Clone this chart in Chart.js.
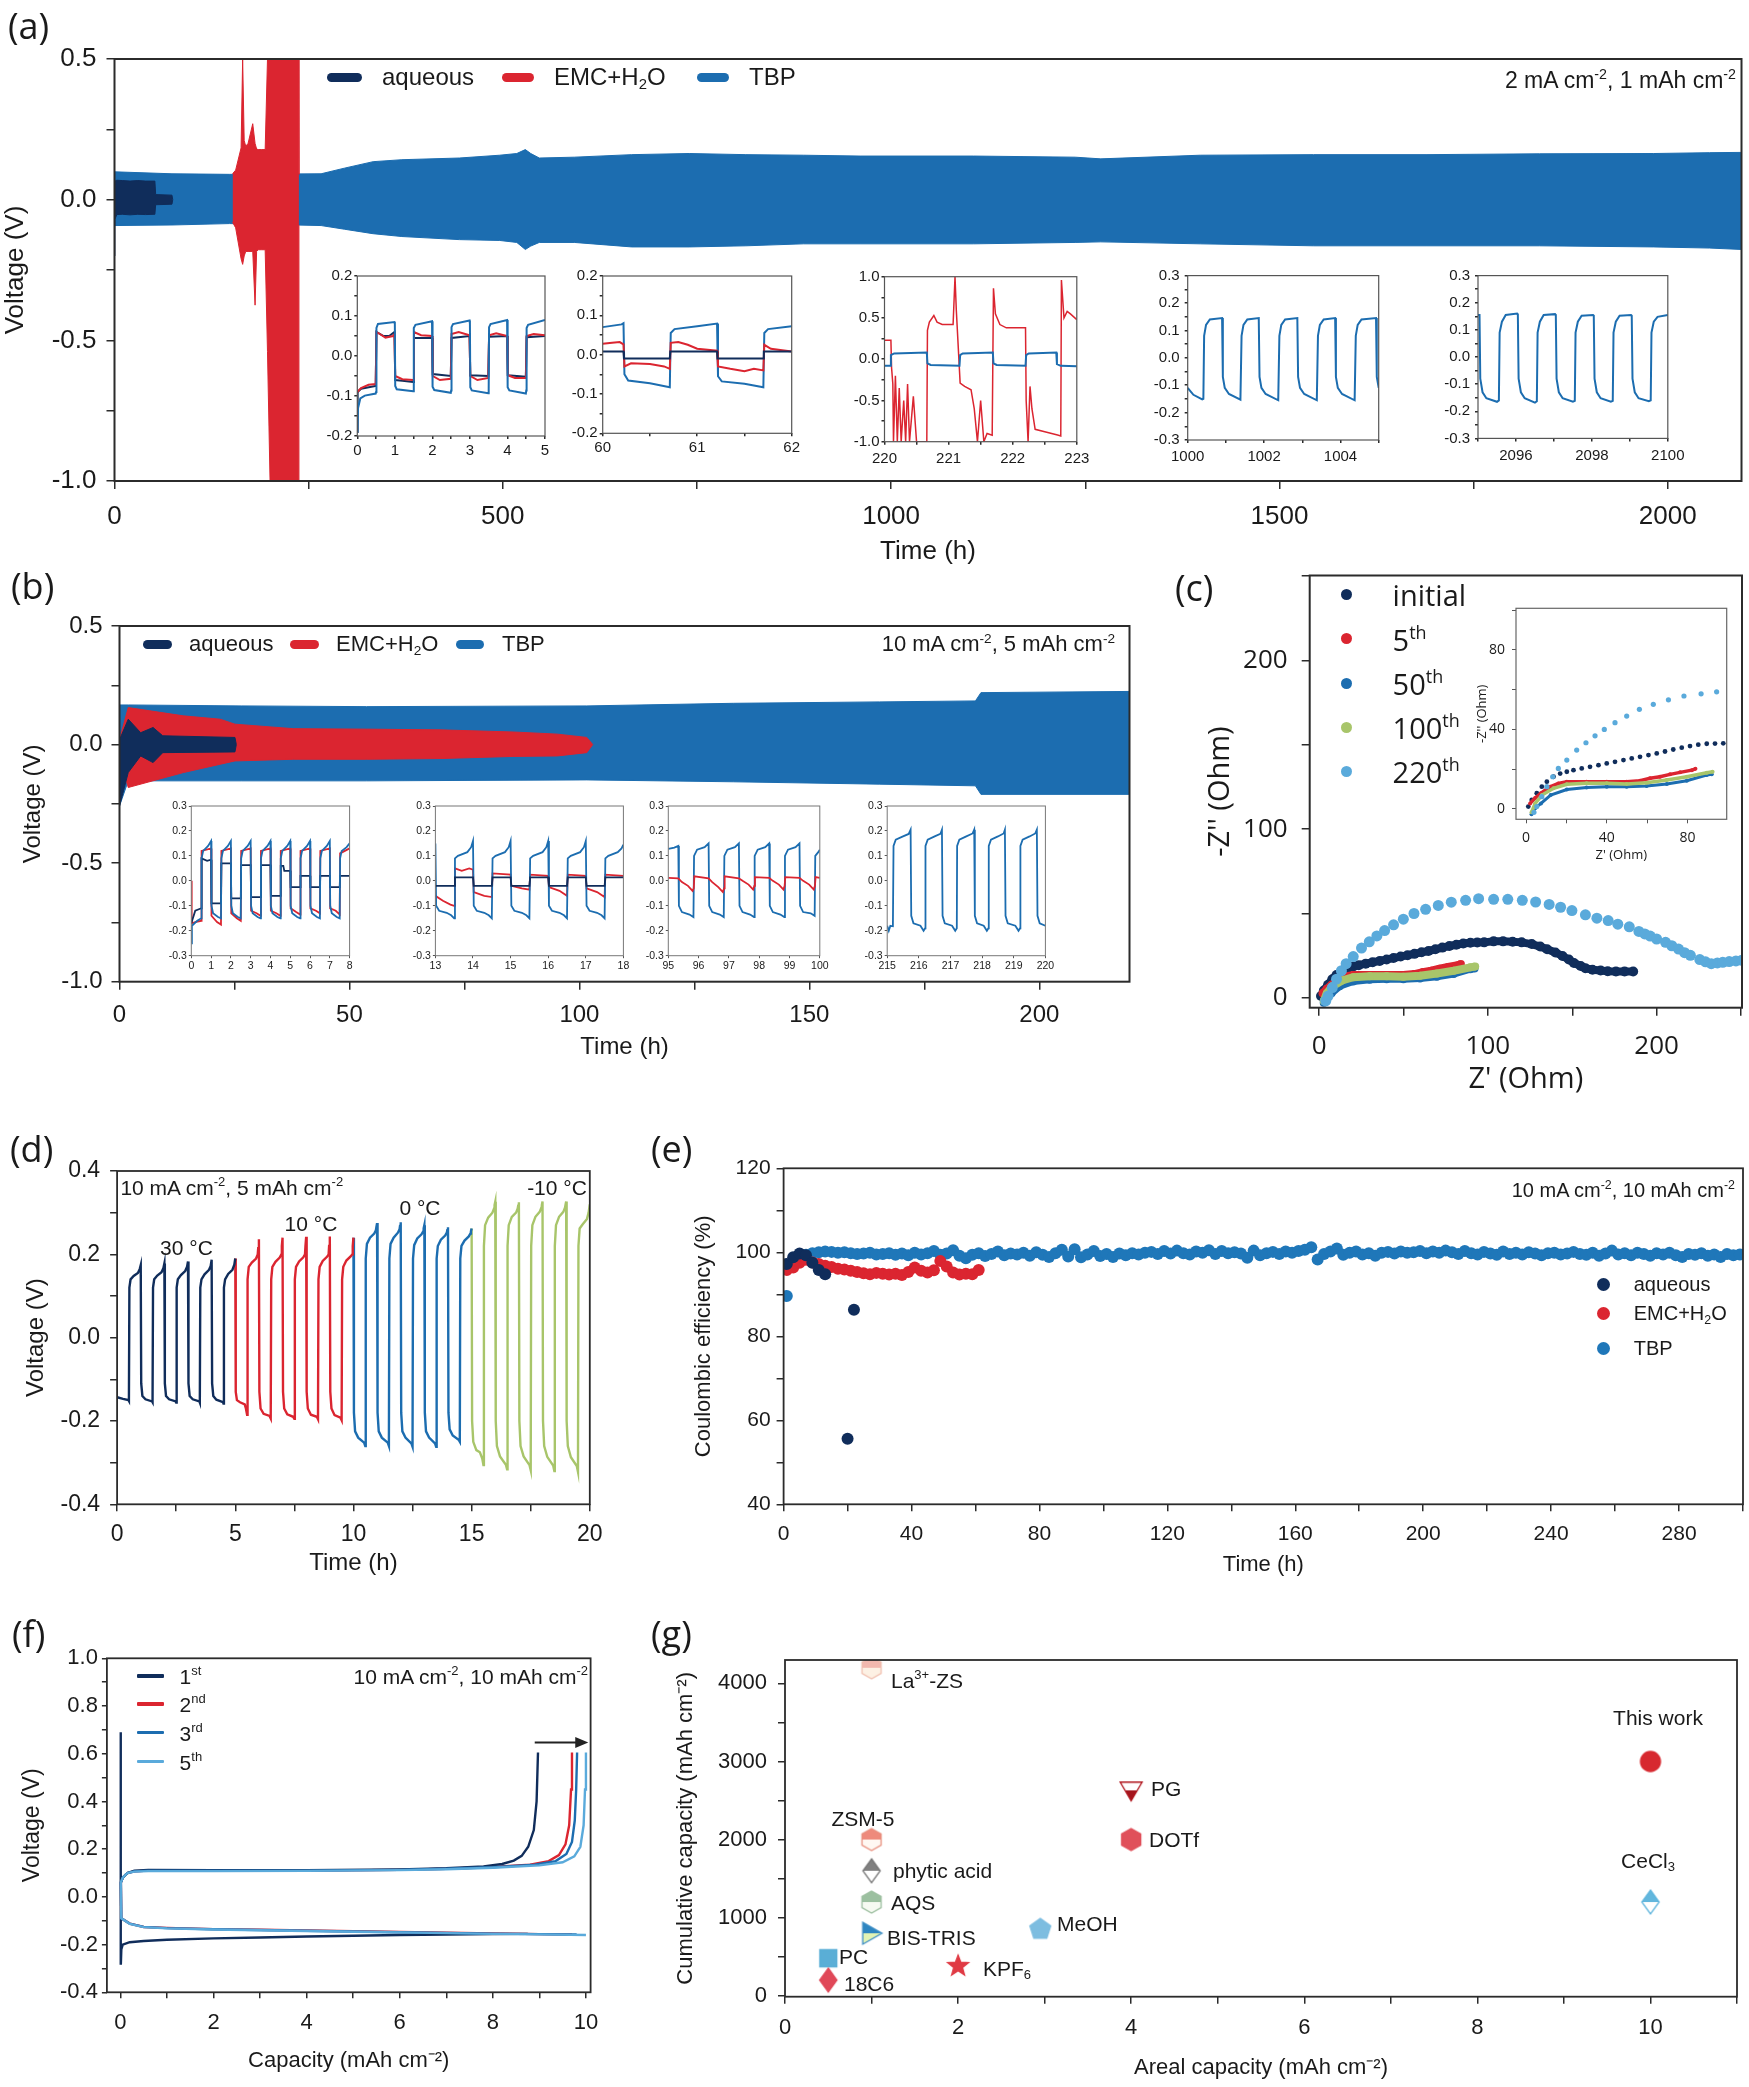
<!DOCTYPE html>
<html>
<head>
<meta charset="utf-8">
<title>Zn symmetric cells – electrolyte comparison</title>
<script src="https://cdn.jsdelivr.net/npm/chart.js@4/dist/chart.umd.min.js"></script>
<style>
  body { margin: 0; background: #fff; }
  #page { position: relative; width: 1749px; height: 2087px; overflow: hidden; background: #fff;
          font-family: "Liberation Sans", Arial, Helvetica, sans-serif; color: #1a1a1a; }
  #page canvas { position: absolute; }
  .t { position: absolute; white-space: nowrap; line-height: 1; }
  .t sup { font-size: 0.62em; vertical-align: 0.62em; line-height: 0; }
  .t sub { font-size: 0.62em; vertical-align: -0.3em; line-height: 0; }
  .mk { position: absolute; }
</style>
</head>
<body>
<div id="page"></div>
<script>
// colours
const NAVY = '#102d5b';
const RED = '#db2530';
const BLUE = '#1c6db0';
const GREEN = '#a8c56a';
const LBLUE = '#5aaadb';
const TEXT = '#1a1a1a';
const SANS = '"Liberation Sans", Arial, Helvetica, sans-serif';
const ROUND = '"Open Sans", "Noto Sans", sans-serif';

// ---------- (a) 2 mA cm-2, 1 mAh cm-2 : envelope of the voltage band ----------
const aAqTime = [0, 0.5, 3, 10, 20, 30, 40, 52, 53, 65, 74, 75];
const aAqUpper = [0.03, 0.066, 0.069, 0.068, 0.066, 0.068, 0.066, 0.066, 0.018, 0.017, 0.016, 0];
const aAqLower = [-0.2, -0.07, -0.053, -0.052, -0.054, -0.052, -0.053, -0.052, -0.018, -0.017, -0.016, 0];
const aEmcTime = [152, 156, 163, 165, 167, 169, 172, 178, 181, 183, 185, 189, 194, 197, 201, 237, 237.5];
const aEmcUpper = [0.092, 0.105, 0.184, 0.5, 0.21, 0.19, 0.2, 0.27, 0.2, 0.18, 0.178, 0.178, 0.178, 0.5, 0.6, 0.6, 0.09];
const aEmcLower = [-0.08, -0.1, -0.21, -0.23, -0.2, -0.184, -0.184, -0.184, -0.375, -0.184, -0.178, -0.178, -0.178, -0.54, -1.1, -1.1, -0.09];
const aTbpTime = [0, 74, 148, 266, 296, 333, 370, 444, 496, 518, 529, 536, 547, 592, 666, 740, 813, 887, 960, 1106, 1237, 1270, 1398, 1544, 1690, 1835, 1982, 2054, 2095];
const aTbpUpper = [0.099, 0.092, 0.09, 0.092, 0.112, 0.135, 0.142, 0.148, 0.158, 0.164, 0.178, 0.164, 0.148, 0.151, 0.16, 0.164, 0.16, 0.158, 0.155, 0.155, 0.151, 0.145, 0.158, 0.16, 0.16, 0.163, 0.164, 0.167, 0.168];
const aTbpLower = [-0.092, -0.09, -0.085, -0.092, -0.105, -0.121, -0.131, -0.142, -0.145, -0.152, -0.177, -0.165, -0.152, -0.152, -0.168, -0.168, -0.164, -0.157, -0.157, -0.157, -0.152, -0.15, -0.157, -0.164, -0.164, -0.164, -0.168, -0.172, -0.177];

// (a) insets, [time h, voltage V]
const aIns1Tbp = [[0,-0.19],[0.02,-0.13],[0.08,-0.106],[0.2,-0.099],[0.49,-0.094],[0.5,-0.09],[0.51,0.07],[0.55,0.08],[0.99,0.085],[1.0,0.08],[1.01,-0.075],[1.05,-0.083],[1.49,-0.088],[1.5,-0.082],[1.51,0.07],[1.55,0.078],[1.99,0.087],[2.0,0.08],[2.01,-0.077],[2.05,-0.085],[2.49,-0.092],[2.5,-0.086],[2.51,0.072],[2.55,0.08],[2.99,0.089],[3.0,0.08],[3.01,-0.078],[3.05,-0.086],[3.49,-0.093],[3.5,-0.086],[3.51,0.072],[3.55,0.08],[3.99,0.09],[4.0,0.08],[4.01,-0.078],[4.05,-0.086],[4.49,-0.094],[4.5,-0.086],[4.51,0.07],[4.55,0.078],[5.0,0.09]];
const aIns1Aq = [[0,-0.19],[0.01,-0.09],[0.1,-0.082],[0.49,-0.075],[0.51,0.06],[0.7,0.05],[0.85,0.05],[0.99,0.06],[1.01,-0.06],[1.2,-0.062],[1.49,-0.065],[1.51,0.045],[1.99,0.045],[2.01,-0.045],[2.49,-0.05],[2.51,0.045],[2.99,0.05],[3.01,-0.048],[3.49,-0.05],[3.51,0.048],[3.99,0.05],[4.01,-0.048],[4.49,-0.052],[4.51,0.047],[5.0,0.05]];
const aIns1Emc = [[0,-0.09],[0.1,-0.08],[0.3,-0.072],[0.49,-0.07],[0.51,0.06],[0.6,0.055],[0.75,0.046],[0.95,0.05],[0.99,0.055],[1.01,-0.05],[1.2,-0.058],[1.49,-0.06],[1.51,0.06],[1.7,0.052],[1.99,0.05],[2.01,-0.05],[2.2,-0.06],[2.49,-0.057],[2.51,0.055],[2.7,0.06],[2.99,0.052],[3.01,-0.05],[3.2,-0.06],[3.49,-0.055],[3.51,0.052],[3.7,0.057],[3.99,0.05],[4.01,-0.048],[4.2,-0.055],[4.49,-0.055],[4.51,0.05],[4.7,0.055],[5.0,0.052]];
const aIns2Tbp = [[60,0.07],[60.2,0.077],[60.22,0.08],[60.23,-0.05],[60.27,-0.066],[60.5,-0.073],[60.71,-0.083],[60.72,0.055],[60.76,0.065],[61.0,0.072],[61.21,0.079],[61.22,-0.055],[61.26,-0.068],[61.5,-0.074],[61.7,-0.083],[61.71,0.055],[61.75,0.065],[62,0.072]];
const aIns2Aq = [[60,0.008],[60.22,0.008],[60.225,-0.01],[60.71,-0.01],[60.715,0.008],[61.21,0.008],[61.215,-0.01],[61.7,-0.01],[61.705,0.008],[62,0.008]];
const aIns2Emc = [[60,0.028],[60.1,0.03],[60.18,0.032],[60.22,0.026],[60.23,-0.03],[60.3,-0.022],[60.5,-0.024],[60.65,-0.03],[60.71,-0.036],[60.72,0.03],[60.8,0.032],[60.9,0.025],[61.0,0.015],[61.21,0.01],[61.22,-0.03],[61.35,-0.036],[61.5,-0.042],[61.6,-0.036],[61.7,-0.04],[61.71,0.025],[61.78,0.015],[62,0.008]];
const aIns3Tbp = [[220,-0.08],[220.09,-0.08],[220.1,0.05],[220.15,0.07],[220.66,0.08],[220.67,-0.05],[220.72,-0.07],[221.17,-0.08],[221.18,0.05],[221.22,0.07],[221.69,0.08],[221.7,-0.05],[221.75,-0.07],[222.2,-0.08],[222.21,0.05],[222.25,0.07],[222.68,0.08],[222.69,-0.06],[222.75,-0.08],[223,-0.085]];
const aIns3Emc = [[220,0.23],[220.1,0.23],[220.11,-0.1],[220.13,-0.3],[220.14,-1.0],[220.17,-0.2],[220.2,-1.0],[220.23,-0.35],[220.26,-1.0],[220.3,-0.5],[220.33,-1.0],[220.36,-0.3],[220.39,-1.0],[220.45,-0.45],[220.5,-1.0],[220.66,-1.0],[220.67,0.35],[220.7,0.45],[220.77,0.53],[220.82,0.45],[220.9,0.42],[221.07,0.42],[221.1,1.0],[221.12,0.6],[221.18,-0.29],[221.25,-0.33],[221.35,-0.37],[221.4,-0.6],[221.45,-1.0],[221.5,-0.5],[221.55,-1.0],[221.6,-0.9],[221.68,-0.92],[221.7,0.86],[221.73,0.55],[221.8,0.42],[221.9,0.38],[222.2,0.38],[222.21,-0.5],[222.24,-1.0],[222.27,-0.33],[222.3,-0.6],[222.35,-0.85],[222.5,-0.88],[222.7,-0.92],[222.75,-0.93],[222.76,0.96],[222.8,0.5],[222.85,0.58],[222.9,0.55],[223,0.48]];
const aIns4Tbp = [[1000,-0.11],[1000.15,-0.135],[1000.38,-0.152],[1000.41,-0.15],[1000.43,0.08],[1000.48,0.12],[1000.58,0.14],[1000.9,0.145],[1000.92,-0.07],[1000.97,-0.11],[1001.08,-0.132],[1001.38,-0.153],[1001.41,0.08],[1001.46,0.12],[1001.56,0.14],[1001.86,0.145],[1001.88,-0.07],[1001.93,-0.11],[1002.04,-0.132],[1002.37,-0.155],[1002.4,0.08],[1002.45,0.12],[1002.55,0.14],[1002.87,0.145],[1002.89,-0.07],[1002.94,-0.11],[1003.05,-0.132],[1003.38,-0.155],[1003.41,0.08],[1003.46,0.12],[1003.56,0.14],[1003.86,0.145],[1003.88,-0.07],[1003.93,-0.11],[1004.04,-0.132],[1004.37,-0.155],[1004.4,0.08],[1004.45,0.12],[1004.55,0.14],[1004.93,0.145],[1004.95,-0.07],[1005,-0.11]];
const aIns5Tbp = [[2095,0.155],[2095.04,0.155],[2095.06,-0.08],[2095.12,-0.13],[2095.22,-0.152],[2095.5,-0.165],[2095.55,-0.16],[2095.57,0.09],[2095.63,0.13],[2095.73,0.155],[2096.03,0.16],[2096.05,0.155],[2096.07,-0.08],[2096.13,-0.13],[2096.23,-0.152],[2096.5,-0.168],[2096.55,-0.163],[2096.57,0.09],[2096.63,0.13],[2096.73,0.155],[2097.03,0.158],[2097.05,0.155],[2097.07,-0.08],[2097.13,-0.13],[2097.23,-0.152],[2097.5,-0.165],[2097.55,-0.162],[2097.57,0.09],[2097.63,0.13],[2097.73,0.152],[2098.03,0.155],[2098.05,0.152],[2098.07,-0.08],[2098.13,-0.13],[2098.23,-0.152],[2098.5,-0.165],[2098.55,-0.162],[2098.57,0.09],[2098.63,0.13],[2098.73,0.152],[2099.03,0.155],[2099.05,0.152],[2099.07,-0.08],[2099.13,-0.13],[2099.23,-0.152],[2099.5,-0.163],[2099.55,-0.16],[2099.57,0.09],[2099.63,0.13],[2099.73,0.148],[2100,0.155]];

// ---------- (b) 10 mA cm-2, 5 mAh cm-2 ----------
const bAqTime = [0, 1.9, 4.6, 7.3, 9.4, 25.1, 25.4];
const bAqUpper = [0.02, 0.107, 0.05, 0.072, 0.037, 0.03, 0];
const bAqLower = [-0.26, -0.118, -0.048, -0.076, -0.034, -0.031, 0];
const bEmcTime = [0, 1.9, 13.9, 21.9, 25.1, 37.8, 53.7, 69.7, 85.6, 95.2, 101.6, 102.9];
const bEmcUpper = [0.02, 0.156, 0.121, 0.107, 0.086, 0.067, 0.065, 0.062, 0.053, 0.044, 0.03, 0.0];
const bEmcLower = [-0.05, -0.181, -0.118, -0.083, -0.069, -0.062, -0.062, -0.059, -0.05, -0.048, -0.034, 0.0];
const bTbpTime = [0, 1.9, 26.6, 53.7, 101.6, 133.5, 165.3, 186.1, 187.3, 219.5];
const bTbpUpper = [0.167, 0.167, 0.163, 0.16, 0.163, 0.174, 0.18, 0.184, 0.219, 0.224];
const bTbpLower = [-0.259, -0.153, -0.153, -0.153, -0.149, -0.157, -0.167, -0.174, -0.21, -0.21];

const bIns1Tbp = [[0,-0.25],[0.03,-0.18],[0.3,-0.16],[0.5,-0.15],[0.52,0.09],[0.6,0.12],[0.85,0.14],[1.0,0.16],[1.02,-0.1],[1.1,-0.13],[1.35,-0.145],[1.5,-0.15],[1.52,0.09],[1.6,0.12],[1.85,0.14],[2.0,0.16],[2.02,-0.1],[2.1,-0.13],[2.35,-0.145],[2.5,-0.15],[2.52,0.09],[2.6,0.12],[2.85,0.14],[3.0,0.16],[3.02,-0.1],[3.1,-0.13],[3.35,-0.145],[3.5,-0.15],[3.52,0.09],[3.6,0.12],[3.85,0.14],[4.0,0.16],[4.02,-0.1],[4.1,-0.13],[4.35,-0.145],[4.5,-0.15],[4.52,0.09],[4.6,0.12],[4.85,0.14],[5.0,0.16],[5.02,-0.1],[5.1,-0.13],[5.35,-0.145],[5.5,-0.15],[5.52,0.09],[5.6,0.12],[5.85,0.14],[6.0,0.16],[6.02,-0.1],[6.1,-0.13],[6.35,-0.145],[6.5,-0.15],[6.52,0.09],[6.6,0.12],[6.85,0.14],[7.0,0.16],[7.02,-0.1],[7.1,-0.13],[7.35,-0.145],[7.5,-0.15],[7.52,0.09],[7.6,0.12],[7.85,0.135],[8.0,0.15]];
const bIns1Aq = [[0,-0.17],[0.2,-0.12],[0.5,-0.11],[0.52,0.09],[0.8,0.08],[1.0,0.085],[1.02,-0.09],[1.5,-0.09],[1.52,0.07],[2.0,0.07],[2.02,-0.07],[2.5,-0.07],[2.52,0.063],[3.0,0.063],[3.02,-0.065],[3.5,-0.065],[3.52,0.063],[4.0,0.063],[4.02,-0.06],[4.5,-0.06],[4.52,0.06],[4.65,0.06],[4.7,0.04],[5.0,0.04],[5.02,-0.025],[5.5,-0.025],[5.52,0.02],[6.0,0.02],[6.02,-0.025],[6.5,-0.025],[6.52,0.02],[7.0,0.02],[7.02,-0.025],[7.5,-0.025],[7.52,0.02],[8,0.02]];
const bIns1Emc = [[0,0.0],[0.02,-0.17],[0.2,-0.165],[0.5,-0.16],[0.52,0.12],[1.0,0.13],[1.02,-0.14],[1.3,-0.165],[1.5,-0.175],[1.52,0.12],[2.0,0.13],[2.02,-0.13],[2.3,-0.15],[2.5,-0.16],[2.52,0.12],[3.0,0.13],[3.02,-0.12],[3.3,-0.13],[3.5,-0.14],[3.52,0.12],[4.0,0.13],[4.02,-0.12],[4.3,-0.13],[4.5,-0.14],[4.52,0.12],[5.0,0.13],[5.02,-0.11],[5.3,-0.125],[5.5,-0.135],[5.52,0.12],[6.0,0.13],[6.02,-0.11],[6.3,-0.12],[6.5,-0.13],[6.52,0.12],[7.0,0.13],[7.02,-0.11],[7.3,-0.12],[7.5,-0.135],[7.52,0.11],[8,0.13]];
const bIns2Tbp = [[13,0.15],[13.02,-0.1],[13.1,-0.12],[13.3,-0.128],[13.42,-0.138],[13.5,-0.15],[13.52,0.09],[13.6,0.1],[13.85,0.115],[13.95,0.135],[14.0,0.16],[14.02,-0.1],[14.1,-0.12],[14.3,-0.128],[14.42,-0.138],[14.5,-0.15],[14.52,0.09],[14.6,0.1],[14.85,0.115],[14.95,0.135],[15.0,0.16],[15.02,-0.1],[15.1,-0.12],[15.3,-0.128],[15.42,-0.138],[15.5,-0.15],[15.52,0.09],[15.6,0.1],[15.85,0.115],[15.95,0.135],[16.0,0.16],[16.02,-0.1],[16.1,-0.12],[16.3,-0.128],[16.42,-0.138],[16.5,-0.15],[16.52,0.09],[16.6,0.1],[16.85,0.115],[16.95,0.135],[17.0,0.16],[17.02,-0.1],[17.1,-0.12],[17.3,-0.128],[17.42,-0.138],[17.5,-0.15],[17.52,0.09],[17.6,0.1],[17.85,0.115],[17.95,0.13],[18,0.145]];
const bIns2Aq = [[13,-0.02],[13.5,-0.02],[13.52,0.014],[14,0.014],[14.02,-0.02],[14.5,-0.02],[14.52,0.014],[15,0.014],[15.02,-0.02],[15.5,-0.02],[15.52,0.014],[16,0.014],[16.02,-0.02],[16.5,-0.02],[16.52,0.014],[17,0.014],[17.02,-0.02],[17.5,-0.02],[17.52,0.014],[18,0.014]];
const bIns2Emc = [[13,-0.06],[13.2,-0.08],[13.4,-0.095],[13.5,-0.1],[13.52,0.05],[13.7,0.04],[13.9,0.05],[14.0,0.045],[14.02,-0.045],[14.3,-0.06],[14.5,-0.065],[14.52,0.03],[15.0,0.025],[15.02,-0.02],[15.3,-0.03],[15.5,-0.035],[15.52,0.025],[16.0,0.02],[16.02,-0.025],[16.3,-0.04],[16.5,-0.06],[16.52,0.025],[17.0,0.02],[17.02,-0.03],[17.3,-0.045],[17.5,-0.065],[17.52,0.025],[18,0.02]];
const bIns3Tbp = [[95,0.128],[95.2,0.133],[95.33,0.14],[95.35,-0.1],[95.45,-0.125],[95.7,-0.135],[95.83,-0.145],[95.85,0.1],[95.95,0.125],[96.2,0.135],[96.33,0.15],[96.35,-0.1],[96.45,-0.125],[96.7,-0.135],[96.83,-0.145],[96.85,0.1],[96.95,0.125],[97.2,0.135],[97.33,0.15],[97.35,-0.1],[97.45,-0.125],[97.7,-0.135],[97.83,-0.145],[97.85,0.1],[97.95,0.125],[98.2,0.135],[98.33,0.15],[98.35,-0.1],[98.45,-0.125],[98.7,-0.135],[98.83,-0.145],[98.85,0.1],[98.95,0.125],[99.2,0.135],[99.33,0.15],[99.35,-0.1],[99.45,-0.125],[99.7,-0.13],[99.83,-0.14],[99.85,0.1],[99.95,0.115],[100,0.125]];
const bIns3Emc = [[95,0.012],[95.33,0.01],[95.45,-0.005],[95.65,-0.02],[95.8,-0.04],[95.84,-0.03],[95.86,0.018],[96.33,0.01],[96.45,-0.005],[96.65,-0.025],[96.8,-0.045],[96.84,-0.03],[96.86,0.018],[97.33,0.01],[97.45,0.0],[97.65,-0.015],[97.8,-0.035],[97.84,-0.02],[97.86,0.015],[98.33,0.012],[98.45,0.0],[98.65,-0.015],[98.8,-0.035],[98.84,-0.02],[98.86,0.015],[99.33,0.012],[99.45,0.0],[99.65,-0.015],[99.8,-0.035],[99.84,-0.02],[99.86,0.015],[100,0.012]];
const bIns4Tbp = [[215,-0.18],[215.05,-0.2],[215.1,-0.18],[215.18,-0.182],[215.2,0.14],[215.27,0.165],[215.5,0.178],[215.68,0.188],[215.74,0.205],[215.76,-0.14],[215.83,-0.17],[216.05,-0.18],[216.15,-0.2],[216.2,-0.19],[216.21,0.14],[216.28,0.165],[216.5,0.178],[216.68,0.188],[216.73,0.205],[216.75,-0.14],[216.82,-0.17],[217.05,-0.18],[217.15,-0.2],[217.2,-0.19],[217.21,0.14],[217.28,0.165],[217.5,0.178],[217.7,0.19],[217.75,0.205],[217.77,-0.14],[217.84,-0.17],[218.05,-0.18],[218.15,-0.2],[218.2,-0.19],[218.21,0.14],[218.28,0.165],[218.5,0.178],[218.68,0.19],[218.72,0.205],[218.74,-0.14],[218.81,-0.17],[219.05,-0.18],[219.15,-0.2],[219.2,-0.19],[219.21,0.14],[219.28,0.165],[219.5,0.178],[219.68,0.19],[219.73,0.205],[219.75,-0.14],[219.82,-0.17],[220,-0.18]];

// ---------- (c) Nyquist plots, [Z' Ohm, -Z'' Ohm] ----------
const cInitial = [[1.1,1.2],[2.8,4.5],[5.3,7.9],[7.8,11.2],[10.3,13.7],[13.6,16.2],[16.9,17.8],[20.2,18.7],[23.5,19.5],[27.6,20.4],[31.7,21.2],[35.9,22],[40,22.9],[44.1,23.7],[48.3,24.6],[52.4,25.4],[56.5,26.2],[60.7,27.1],[64.8,27.9],[68.9,28.9],[73,29.9],[77.2,30.8],[81.3,31.6],[85.4,32.3],[89.6,32.8],[93.7,32.9],[97.8,33.0],[103.4,33.6],[109,33.6],[114.7,33.4],[120,33],[126,32],[131,30.5],[135.1,28.9],[140,27],[144.2,24.9],[148,22.8],[151,20.8],[155,19],[157.8,17.7],[162,16.8],[166.8,16.3],[171,15.9],[175.9,15.7],[181,15.7],[186.1,15.7]];
const c5th = [[2.0,2.8],[4.5,5.5],[7.4,7.9],[11.9,11.2],[16,12.8],[20.2,13.7],[30,13.7],[40,13.7],[49.9,13.7],[56.5,14.2],[61.5,15.4],[66.4,16.2],[71.4,17.4],[76.4,18.4],[82.2,19.5],[84,20.2]];
const c50th = [[2.7,-2.7],[4.5,0.4],[7.4,2.8],[12.2,7],[20.2,9.8],[30,10.8],[40,11.2],[49.9,11.2],[59.8,11.6],[69.8,12.6],[79.7,14.2],[89.6,17.1],[92.1,17.5]];
const c100th = [[2.7,-1.7],[4.5,2.8],[7.9,7],[13.6,10.4],[20.2,12.4],[30,12.9],[40,12.9],[49.9,12.6],[59.8,13.2],[69.8,14.6],[79.7,16.2],[89.6,18.2],[92.5,18.7]];
const c220th = [[3.9,-1.7],[5.3,1.2],[7.8,6.2],[10.3,11.2],[13.2,16.2],[16,20.4],[20.2,24.6],[25.1,29.6],[29.7,33.3],[34.2,36.8],[38.8,40],[44.1,43.4],[49.9,46.7],[56.2,50.1],[63.1,52.6],[70.6,54.9],[78.3,56.8],[86.8,57.9],[94.5,58.9],[103.4,58.5],[111.8,58.5],[120.4,57.9],[128.3,56.9],[136.3,55.5],[143.1,53.8],[149.8,51.8],[157.8,49.3],[164.6,47.3],[171.3,45.9],[177,43.8],[183.8,42.2],[189.5,39.5],[193,38],[196.2,36.7],[200,35],[205.3,33],[209,31],[213,29],[216.6,26.9],[220,25.3],[225.6,22.8],[229,21.5],[232.4,20.4],[236,20.8],[239.2,21.2],[243,21.6],[247,22],[250.5,22.4]];

// ---------- (d) temperature series, [time h, voltage V] ----------
const d30C = [[0,-0.143],[0.25,-0.147],[0.48,-0.15],[0.5,-0.152],[0.52,0.12],[0.57,0.14],[0.7,0.148],[0.88,0.155],[0.96,0.165],[1.0,0.174],[1.02,-0.11],[1.07,-0.14],[1.2,-0.148],[1.48,-0.153],[1.5,-0.155],[1.52,0.12],[1.57,0.14],[1.7,0.149],[1.88,0.157],[1.96,0.167],[2.0,0.178],[2.02,-0.11],[2.07,-0.14],[2.2,-0.148],[2.48,-0.153],[2.5,-0.156],[2.52,0.12],[2.57,0.14],[2.7,0.15],[2.88,0.16],[2.96,0.17],[3.0,0.183],[3.02,-0.11],[3.07,-0.14],[3.2,-0.148],[3.48,-0.153],[3.5,-0.156],[3.52,0.12],[3.57,0.14],[3.7,0.152],[3.88,0.162],[3.96,0.172],[4.0,0.187],[4.02,-0.11],[4.07,-0.14],[4.2,-0.149],[4.48,-0.155],[4.5,-0.158],[4.52,0.12],[4.57,0.14],[4.7,0.153],[4.88,0.163],[4.96,0.175],[5.0,0.19]];
const d10C = [[5.0,0.19],[5.02,-0.13],[5.07,-0.15],[5.2,-0.155],[5.4,-0.16],[5.45,-0.17],[5.5,-0.185],[5.52,0.14],[5.57,0.17],[5.7,0.18],[5.88,0.19],[5.95,0.2],[5.97,0.215],[6.0,0.236],[6.02,-0.13],[6.07,-0.17],[6.2,-0.183],[6.45,-0.188],[6.5,-0.194],[6.52,0.14],[6.57,0.17],[6.7,0.182],[6.88,0.192],[6.95,0.2],[6.97,0.22],[7.0,0.24],[7.02,-0.13],[7.07,-0.17],[7.2,-0.184],[7.45,-0.19],[7.5,-0.195],[7.52,0.14],[7.57,0.17],[7.7,0.183],[7.88,0.193],[7.95,0.2],[7.97,0.22],[8.0,0.242],[8.02,-0.13],[8.07,-0.17],[8.2,-0.185],[8.45,-0.19],[8.5,-0.196],[8.52,0.14],[8.57,0.17],[8.7,0.184],[8.88,0.194],[8.95,0.2],[8.97,0.22],[9.0,0.243],[9.02,-0.13],[9.07,-0.17],[9.2,-0.186],[9.45,-0.192],[9.5,-0.198],[9.52,0.14],[9.57,0.17],[9.7,0.185],[9.88,0.195],[9.95,0.2],[9.97,0.22],[10.0,0.24]];
const d0C = [[10.0,0.24],[10.02,-0.18],[10.07,-0.225],[10.2,-0.24],[10.45,-0.252],[10.5,-0.26],[10.52,0.19],[10.57,0.225],[10.7,0.24],[10.88,0.25],[10.95,0.258],[10.97,0.265],[11.0,0.275],[11.02,-0.18],[11.07,-0.225],[11.2,-0.24],[11.45,-0.252],[11.5,-0.26],[11.52,0.19],[11.57,0.225],[11.7,0.24],[11.88,0.252],[11.95,0.26],[11.97,0.268],[12.0,0.277],[12.02,-0.18],[12.07,-0.225],[12.2,-0.24],[12.45,-0.254],[12.5,-0.262],[12.52,0.19],[12.57,0.222],[12.7,0.238],[12.88,0.248],[12.95,0.255],[12.97,0.262],[13.0,0.27],[13.02,-0.18],[13.07,-0.225],[13.2,-0.24],[13.45,-0.254],[13.5,-0.262],[13.52,0.19],[13.57,0.22],[13.7,0.235],[13.88,0.245],[13.95,0.252],[13.97,0.258],[14.0,0.265],[14.02,-0.18],[14.07,-0.22],[14.2,-0.235],[14.45,-0.245],[14.5,-0.25],[14.52,0.19],[14.57,0.22],[14.7,0.233],[14.88,0.243],[14.95,0.25],[14.97,0.255],[15.0,0.262]];
const dM10C = [[15.0,0.262],[15.02,-0.2],[15.07,-0.25],[15.2,-0.27],[15.35,-0.275],[15.45,-0.29],[15.5,-0.306],[15.52,0.22],[15.57,0.27],[15.7,0.288],[15.88,0.3],[15.95,0.31],[15.97,0.318],[16.0,0.326],[16.02,-0.2],[16.07,-0.26],[16.2,-0.285],[16.45,-0.305],[16.5,-0.316],[16.52,0.22],[16.57,0.27],[16.7,0.29],[16.88,0.3],[16.95,0.31],[16.97,0.317],[17.0,0.325],[17.02,-0.2],[17.07,-0.26],[17.2,-0.285],[17.45,-0.306],[17.5,-0.318],[17.52,0.22],[17.57,0.27],[17.7,0.29],[17.88,0.302],[17.95,0.312],[17.97,0.318],[18.0,0.327],[18.02,-0.2],[18.07,-0.26],[18.2,-0.286],[18.45,-0.307],[18.5,-0.32],[18.52,0.22],[18.57,0.27],[18.7,0.29],[18.88,0.302],[18.95,0.312],[18.97,0.318],[19.0,0.327],[19.02,-0.2],[19.07,-0.26],[19.2,-0.287],[19.45,-0.308],[19.5,-0.322],[19.52,0.22],[19.57,0.262],[19.7,0.272],[19.88,0.285],[19.95,0.3],[20.0,0.32]];

// ---------- (e) Coulombic efficiency ----------
const eTbpTime = [1,3,5,7,9,11,13,15,17,19,21,23,25,27,29,31,33,35,37,39,41,43,45,47,49,51,53,55,57,59,61,63,65,67,69,71,73,75,77,79,81,83,85,87,89,91,93,95,97,99,101,103,105,107,109,111,113,115,117,119,121,123,125,127,129,131,133,135,137,139,141,143,145,147,149,151,153,155,157,159,161,163,165,167,169,171,173,175,177,179,181,183,185,187,189,191,193,195,197,199,201,203,205,207,209,211,213,215,217,219,221,223,225,227,229,231,233,235,237,239,241,243,245,247,249,251,253,255,257,259,261,263,265,267,269,271,273,275,277,279,281,283,285,287,289,291,293,295,297,299];
const eTbpCE = [
  89.6, 96.8, 98.6, 99.4, 99.8, 100.0, 100.2, 100.1, 99.9, 100.0,
  99.8, 99.6, 99.7, 99.9, 99.5, 99.6, 99.8, 99.4, 99.7, 99.3,
  99.9, 99.5, 99.8, 100.3, 99.4, 99.7, 100.5, 99.2, 98.6, 99.4,
  99.8, 99.1, 99.6, 100.2, 99.3, 99.7, 99.5, 99.9, 99.2, 100.0,
  99.4, 98.9, 99.8, 100.6, 99.0, 100.7, 98.8, 99.5, 100.3, 99.1,
  99.6, 98.9, 99.7, 99.3, 99.8, 99.5, 99.9, 100.1, 99.6, 100.3,
  99.7, 100.4, 99.8, 99.5, 100.2, 99.9, 100.5, 99.6, 100.3, 99.8,
  100.0, 99.7, 98.7, 100.4, 99.3, 99.8, 100.1, 99.6, 100.2, 99.9,
  100.3, 100.6, 101.2, 98.3, 99.6, 100.2, 100.9, 99.4, 99.9, 100.2,
  99.5, 99.8, 99.2, 99.9, 100.1, 99.7, 100.2, 99.9, 100.0, 100.3,
  99.8, 100.2, 99.9, 100.4, 100.0, 99.6, 100.3, 99.8, 99.5, 100.1,
  99.7, 99.4, 100.2, 99.6, 99.9, 99.5, 100.0, 99.7, 99.3, 99.8,
  99.9, 99.5, 99.7, 100.1, 99.6, 99.4, 99.9, 99.2, 99.7, 100.4,
  99.5, 99.8, 99.3, 99.9, 99.6, 99.2, 99.8, 99.5, 99.9, 99.3,
  98.9, 99.6, 99.4, 99.8, 99.2, 99.5, 98.9, 99.6, 99.3, 99.5];
const eAqTime = [1, 3, 5, 7, 9, 11, 13, 20, 22];
const eAqCE = [97.2, 98.8, 99.7, 99.3, 97.5, 95.8, 94.8, 55.6, 86.3];
const eEmcTime = [1,3,5,7,9,11,13,15,17,19,21,23,25,27,29,31,33,35,37,39,41,43,45,47,49,51,53,55,57,59,61];
const eEmcCE = [95.8, 96.4, 97.5, 98.2, 97.6, 97.2, 96.8, 96.5, 96.1, 95.9, 95.6, 95.3, 95.0, 94.8, 95.1, 94.9, 94.7, 94.9, 94.6, 95.3, 96.4, 95.6, 95.2, 95.7, 97.9, 96.6, 95.2, 94.7, 94.9, 94.8, 95.8];

// ---------- (f) voltage profiles, [capacity mAh cm-2, voltage V] ----------
const f1st = [[8.75,-0.155],[8,-0.156],[7,-0.158],[6,-0.16],[5,-0.163],[4,-0.166],[3,-0.17],[2,-0.174],[1,-0.18],[0.5,-0.185],[0.2,-0.19],[0.05,-0.2],[0.02,-0.22],[0.01,-0.28],[0.005,0.69],[0.01,0.06],[0.05,0.08],[0.15,0.1],[0.3,0.11],[0.6,0.113],[2,0.112],[4,0.112],[6,0.115],[7,0.12],[7.8,0.128],[8.2,0.138],[8.45,0.152],[8.62,0.172],[8.76,0.21],[8.88,0.28],[8.94,0.4],[8.97,0.605]];
const f2nd = [[9.7,-0.158],[9,-0.156],[8,-0.153],[7,-0.15],[6,-0.147],[5,-0.144],[4,-0.141],[3,-0.138],[2,-0.135],[1,-0.13],[0.5,-0.126],[0.2,-0.112],[0.02,-0.09],[0.01,0.06],[0.05,0.08],[0.15,0.1],[0.3,0.107],[0.6,0.11],[2,0.11],[4,0.11],[6,0.113],[7,0.118],[8,0.125],[8.8,0.135],[9.2,0.15],[9.42,0.175],[9.56,0.22],[9.64,0.3],[9.68,0.45],[9.7,0.605]];
const f3rd = [[9.8,-0.158],[9,-0.156],[8,-0.154],[7,-0.151],[6,-0.148],[5,-0.145],[4,-0.142],[3,-0.139],[2,-0.136],[1,-0.131],[0.5,-0.126],[0.2,-0.112],[0.02,-0.09],[0.01,0.06],[0.05,0.08],[0.15,0.1],[0.3,0.107],[0.6,0.11],[2,0.11],[4,0.11],[6,0.113],[7,0.118],[8,0.124],[8.9,0.135],[9.35,0.15],[9.58,0.18],[9.7,0.23],[9.76,0.32],[9.79,0.45],[9.81,0.605]];
const f5th = [[10,-0.16],[9,-0.157],[8,-0.155],[7,-0.152],[6,-0.149],[5,-0.146],[4,-0.143],[3,-0.14],[2,-0.137],[1,-0.132],[0.5,-0.127],[0.2,-0.113],[0.02,-0.09],[0.01,0.06],[0.05,0.08],[0.15,0.1],[0.3,0.106],[0.6,0.108],[2,0.108],[4,0.109],[6,0.112],[7,0.116],[8,0.122],[9,0.132],[9.5,0.145],[9.75,0.17],[9.88,0.21],[9.95,0.3],[9.98,0.45],[10,0.605]];
const fArrow = {from: 8.9, to: 10.05, v: 0.647};

// ---------- (g) comparison with literature ----------
const gNames = ['La<sup>3+</sup>-ZS', 'This work', 'PG', 'DOTf', 'ZSM-5', 'phytic acid', 'AQS', 'BIS-TRIS', 'MeOH', 'PC', '18C6', 'KPF<sub>6</sub>', 'CeCl<sub>3</sub>'];
const gAreal = [1, 10, 4, 4, 1, 1, 1, 1, 2.95, 0.5, 0.5, 2, 10];
const gCumulative = [4200, 3000, 2630, 2000, 2000, 1600, 1200, 800, 850, 480, 200, 380, 1200];

// ---------- helpers ----------
const page = document.getElementById('page');
const pts = (xs, ys) => xs.map((x, i) => ({x: x, y: ys[i]}));
const pairs = arr => arr.map(p => ({x: p[0], y: p[1]}));
const f1 = v => v.toFixed(1);
const f0 = v => String(v);

Chart.register({
  id: 'frame',
  defaults: {color: '#2b2b2b', width: 1.6},
  afterDraw(chart, args, opts) {
    const a = chart.chartArea, c = chart.ctx;
    c.save();
    c.strokeStyle = opts.color;
    c.lineWidth = opts.width;
    c.strokeRect(a.left, a.top, a.right - a.left, a.bottom - a.top);
    c.restore();
  }
});

function axis(min, max, major, minor, fmt, st) {
  const all = major.concat(minor).sort((a, b) => a - b);
  const fam = st.family || SANS;
  return {
    type: 'linear', min: min, max: max,
    afterBuildTicks: s => { s.ticks = all.map(v => ({value: v})); },
    border: {display: false},
    grid: {drawOnChartArea: false, drawTicks: true, tickLength: st.tl, color: st.tc || '#2b2b2b', lineWidth: st.tw || 1.5},
    ticks: {autoSkip: false, maxRotation: 0, minRotation: 0, padding: st.pad, color: TEXT,
            font: {family: fam, size: st.size}, callback: v => major.includes(v) ? fmt(v) : ''},
    title: st.title ? {display: true, text: st.title, color: TEXT, font: {family: fam, size: st.tsize},
                       padding: {top: st.tpad, bottom: st.tpad}} : {display: false}
  };
}

function makeChart(type, box, plot, scales, datasets, pluginOpts, inline) {
  const cv = document.createElement('canvas');
  cv.width = box.w; cv.height = box.h;
  cv.style.left = box.x + 'px'; cv.style.top = box.y + 'px';
  page.appendChild(cv);
  const xH = box.y + box.h - plot.b;
  const yW = plot.l - box.x;
  scales.x.afterFit = s => { s.height = xH; s.paddingLeft = 0; s.paddingRight = 0; s.paddingTop = 0; s.paddingBottom = 0; };
  scales.y.afterFit = s => { s.width = yW; s.paddingLeft = 0; s.paddingRight = 0; s.paddingTop = 0; s.paddingBottom = 0; };
  return new Chart(cv, {
    type: type,
    data: {datasets: datasets},
    options: {
      responsive: false, animation: false, events: [],
      layout: {padding: {left: 0, bottom: 0, top: plot.t - box.y, right: box.x + box.w - plot.r}},
      scales: scales,
      plugins: Object.assign({legend: {display: false}, tooltip: {enabled: false}}, pluginOpts || {})
    },
    plugins: inline || []
  });
}

const band = (xs, up, lo, color) => [
  {data: pts(xs, up), borderColor: color, backgroundColor: color, borderWidth: 1, pointRadius: 0, fill: false},
  {data: pts(xs, lo), borderColor: color, backgroundColor: color, borderWidth: 1, pointRadius: 0, fill: '-1'}
];
const trace = (arr, color, w) => ({data: pairs(arr), borderColor: color, borderWidth: w, pointRadius: 0, fill: false});

function put(html, x, y, size, anchor, style) {
  const d = document.createElement('div');
  d.className = 't';
  d.innerHTML = html;
  const tx = anchor === 'c' ? '-50%' : (anchor === 'r' ? '-100%' : '0');
  d.style.cssText = 'left:' + x + 'px;top:' + y + 'px;font-size:' + size + 'px;transform:translate(' + tx + ',-50%);' + (style || '');
  page.appendChild(d);
}
function swatch(x, y, w, h, color, radius) {
  const d = document.createElement('div');
  d.className = 'mk';
  d.style.cssText = 'left:' + x + 'px;top:' + (y - h / 2) + 'px;width:' + w + 'px;height:' + h + 'px;background:' + color + ';border-radius:' + radius + 'px;';
  page.appendChild(d);
}
const dot = (cx, cy, r, color) => swatch(cx - r, cy, 2 * r, 2 * r, color, r);

// ---------- (a) ----------
const yA = [-1.0, -0.5, 0.0, 0.5];
makeChart('line', {x: 0, y: 30, w: 1749, h: 540}, {l: 114.5, t: 59, r: 1741.5, b: 481}, {
  x: axis(0, 2095, [0, 500, 1000, 1500, 2000], [250, 750, 1250, 1750], f0, {size: 26, tl: 8, pad: 12, title: 'Time (h)', tsize: 26, tpad: 2.4}),
  y: axis(-1.0, 0.5, yA, [-0.75, -0.25, 0.25], f1, {size: 26, tl: 8, pad: 10, title: 'Voltage (V)', tsize: 26, tpad: 0})
}, band(aAqTime, aAqUpper, aAqLower, NAVY).concat(band(aEmcTime, aEmcUpper, aEmcLower, RED), band(aTbpTime, aTbpUpper, aTbpLower, BLUE)),
{frame: {width: 2}});

const insA = {size: 15, tl: 3, pad: 2};
const insAx = {size: 15, tl: 3, pad: 3};
const yIns02 = [-0.2, -0.1, 0.0, 0.1, 0.2];
const yIns03 = [-0.3, -0.2, -0.1, 0.0, 0.1, 0.2, 0.3];
makeChart('line', {x: 315, y: 266, w: 245, h: 195}, {l: 357.3, t: 276, r: 545, b: 436}, {
  x: axis(0, 5, [0, 1, 2, 3, 4, 5], [0.5, 1.5, 2.5, 3.5, 4.5], f0, insAx),
  y: axis(-0.2, 0.2, yIns02, [-0.15, -0.05, 0.05, 0.15], f1, insA)
}, [trace(aIns1Tbp, BLUE, 2), trace(aIns1Emc, RED, 2), trace(aIns1Aq, NAVY, 2)], {frame: {width: 1.2, color: '#555'}});
makeChart('line', {x: 562, y: 266, w: 250, h: 195}, {l: 602.7, t: 276, r: 791.7, b: 433.3}, {
  x: axis(60, 62, [60, 61, 62], [60.5, 61.5], f0, insAx),
  y: axis(-0.2, 0.2, yIns02, [-0.15, -0.05, 0.05, 0.15], f1, insA)
}, [trace(aIns2Aq, NAVY, 2), trace(aIns2Emc, RED, 2), trace(aIns2Tbp, BLUE, 2)], {frame: {width: 1.2, color: '#555'}});
makeChart('line', {x: 842, y: 266, w: 262, h: 200}, {l: 884.5, t: 276.7, r: 1076.8, b: 441.7}, {
  x: axis(220, 223, [220, 221, 222, 223], [220.5, 221.5, 222.5], f0, {size: 15, tl: 3, pad: 5}),
  y: axis(-1.0, 1.0, [-1.0, -0.5, 0.0, 0.5, 1.0], [-0.75, -0.25, 0.25, 0.75], f1, insA)
}, [trace(aIns3Tbp, BLUE, 2), trace(aIns3Emc, RED, 1.5)], {frame: {width: 1.2, color: '#555'}});
makeChart('line', {x: 1145, y: 266, w: 255, h: 200}, {l: 1187.7, t: 275.6, r: 1378.7, b: 440}, {
  x: axis(1000, 1005, [1000, 1002, 1004], [1001, 1003, 1005], f0, {size: 15, tl: 3, pad: 5}),
  y: axis(-0.3, 0.3, yIns03, [-0.25, -0.15, -0.05, 0.05, 0.15, 0.25], f1, {size: 15, tl: 3, pad: 5})
}, [trace(aIns4Tbp, BLUE, 2)], {frame: {width: 1.2, color: '#555'}});
makeChart('line', {x: 1435, y: 266, w: 265, h: 200}, {l: 1478, t: 275.6, r: 1667.8, b: 438.4}, {
  x: axis(2095, 2100, [2096, 2098, 2100], [2095, 2097, 2099], f0, {size: 15, tl: 3, pad: 5}),
  y: axis(-0.3, 0.3, yIns03, [-0.25, -0.15, -0.05, 0.05, 0.15, 0.25], f1, {size: 15, tl: 3, pad: 5})
}, [trace(aIns5Tbp, BLUE, 2)], {frame: {width: 1.2, color: '#555'}});

// ---------- (b) ----------
makeChart('line', {x: 15, y: 600, w: 1135, h: 464}, {l: 119.5, t: 626, r: 1129.5, b: 981.7}, {
  x: axis(0, 219.6, [0, 50, 100, 150, 200], [25, 75, 125, 175], f0, {size: 24, tl: 8, pad: 11, title: 'Time (h)', tsize: 24, tpad: 2.3}),
  y: axis(-1.0, 0.5, yA, [-0.75, -0.25, 0.25], f1, {size: 24, tl: 8, pad: 9, title: 'Voltage (V)', tsize: 24, tpad: 3.6})
}, band(bAqTime, bAqUpper, bAqLower, NAVY).concat(band(bEmcTime, bEmcUpper, bEmcLower, RED), band(bTbpTime, bTbpUpper, bTbpLower, BLUE)),
{frame: {width: 2}});

const insB = {size: 10.5, tl: 2.5, pad: 2, tc: '#555', tw: 1};
const yInsB = [-0.3, -0.2, -0.1, 0.0, 0.1, 0.2, 0.3];
const bInsFrame = {frame: {width: 1, color: '#777'}};
makeChart('line', {x: 160, y: 798, w: 200, h: 178}, {l: 191.3, t: 806, r: 349.6, b: 955.7}, {
  x: axis(0, 8, [0, 1, 2, 3, 4, 5, 6, 7, 8], [], f0, insB),
  y: axis(-0.3, 0.3, yInsB, [], f1, insB)
}, [trace(bIns1Tbp, BLUE, 1.8), trace(bIns1Aq, NAVY, 1.8), trace(bIns1Emc, RED, 1.8)], bInsFrame);
makeChart('line', {x: 404, y: 798, w: 230, h: 178}, {l: 435.4, t: 806, r: 623.4, b: 955.7}, {
  x: axis(13, 18, [13, 14, 15, 16, 17, 18], [], f0, insB),
  y: axis(-0.3, 0.3, yInsB, [], f1, insB)
}, [trace(bIns2Aq, NAVY, 1.8), trace(bIns2Tbp, BLUE, 1.8), trace(bIns2Emc, RED, 1.8)], bInsFrame);
makeChart('line', {x: 637, y: 798, w: 195, h: 178}, {l: 668.3, t: 806, r: 819.8, b: 955.7}, {
  x: axis(95, 100, [95, 96, 97, 98, 99, 100], [], f0, insB),
  y: axis(-0.3, 0.3, yInsB, [], f1, insB)
}, [trace(bIns3Emc, RED, 1.8), trace(bIns3Tbp, BLUE, 1.8)], bInsFrame);
makeChart('line', {x: 856, y: 798, w: 202, h: 178}, {l: 887.2, t: 806, r: 1045.4, b: 955.7}, {
  x: axis(215, 220, [215, 216, 217, 218, 219, 220], [], f0, insB),
  y: axis(-0.3, 0.3, yInsB, [], f1, insB)
}, [trace(bIns4Tbp, BLUE, 1.8)], bInsFrame);

// ---------- (c) ----------
const nyq = (arr, color, r, line) => ({type: 'scatter', data: pairs(arr), showLine: !!line, borderColor: color, borderWidth: line || 0,
  backgroundColor: color, pointRadius: r, pointBorderWidth: 0, pointBackgroundColor: color});
makeChart('scatter', {x: 1195, y: 550, w: 554, h: 550}, {l: 1309.7, t: 575.5, r: 1742, b: 1007.7}, {
  x: axis(-5.6, 250.6, [0, 100, 200], [50, 150, 250], f0, {size: 26, tl: 8, pad: 15, title: "Z' (Ohm)", tsize: 29, tpad: 2.6, family: ROUND}),
  y: axis(-5.7, 250.3, [0, 100, 200], [50, 150, 250], f0, {size: 26, tl: 8, pad: 14, title: "-Z'' (Ohm)", tsize: 29, tpad: 8.3, family: ROUND})
}, [nyq(c220th, LBLUE, 5.5), nyq(c100th, GREEN, 4, 8), nyq(c5th, RED, 4, 8), nyq(c50th, BLUE, 4, 7), nyq(cInitial, NAVY, 5, 8)], {frame: {width: 2}});
makeChart('scatter', {x: 1470, y: 595, w: 265, h: 270}, {l: 1516, t: 608.3, r: 1726.7, b: 819.3}, {
  x: axis(-5, 99.5, [0, 40, 80], [20, 60], f0, {size: 14, tl: 4, pad: 6, title: "Z' (Ohm)", tsize: 13, tpad: 2.2, family: ROUND, tc: '#555', tw: 1}),
  y: axis(-5.2, 100.9, [0, 40, 80], [20, 60, 100], f0, {size: 14, tl: 4, pad: 7, title: "-Z'' (Ohm)", tsize: 13, tpad: 4.2, family: ROUND, tc: '#555', tw: 1})
}, [nyq(c220th, LBLUE, 2.6), nyq(c100th, GREEN, 2, 3.5), nyq(c5th, RED, 2, 3.5), nyq(c50th, BLUE, 2, 3), nyq(cInitial, NAVY, 2.4)],
{frame: {width: 1.2, color: '#666'}});

// ---------- (d) ----------
makeChart('line', {x: 12, y: 1145, w: 610, h: 435}, {l: 117.1, t: 1171, r: 589.8, b: 1504.3}, {
  x: axis(0, 20, [0, 5, 10, 15, 20], [2.5, 7.5, 12.5, 17.5], f0, {size: 23, tl: 7, pad: 9.6, title: 'Time (h)', tsize: 24, tpad: 2.6}),
  y: axis(-0.4, 0.4, [-0.4, -0.2, 0.0, 0.2, 0.4], [-0.3, -0.1, 0.1, 0.3], f1, {size: 23, tl: 7, pad: 10, title: 'Voltage (V)', tsize: 24, tpad: 10.3})
}, [trace(d30C, NAVY, 2.4), trace(d10C, RED, 2.4), trace(d0C, BLUE, 2.4), trace(dM10C, GREEN, 2.4)], {frame: {width: 1.8}});

// ---------- (e) ----------
const ceSet = (xs, ys, color) => ({type: 'scatter', data: pts(xs, ys), backgroundColor: color, pointRadius: 6, pointBorderWidth: 0});
makeChart('scatter', {x: 688, y: 1145, w: 1061, h: 436}, {l: 783.6, t: 1168.3, r: 1743.3, b: 1504.3}, {
  x: axis(0, 300, [0, 40, 80, 120, 160, 200, 240, 280], [20, 60, 100, 140, 180, 220, 260, 300], f0, {size: 21, tl: 7, pad: 10.5, title: 'Time (h)', tsize: 22, tpad: 2.8}),
  y: axis(40, 120, [40, 60, 80, 100, 120], [50, 70, 90, 110], f0, {size: 21, tl: 7, pad: 6, title: 'Coulombic efficiency (%)', tsize: 22, tpad: 2.5})
}, [ceSet(eAqTime, eAqCE, NAVY), ceSet(eEmcTime, eEmcCE, RED), ceSet(eTbpTime, eTbpCE, '#1f77b9')], {frame: {width: 1.8}});

// ---------- (f) ----------
const arrowPlugin = {
  id: 'capArrow',
  afterDatasetsDraw(chart) {
    const xs = chart.scales.x, ys = chart.scales.y, c = chart.ctx;
    const x0 = xs.getPixelForValue(fArrow.from), x1 = xs.getPixelForValue(fArrow.to), y = ys.getPixelForValue(fArrow.v);
    c.save();
    c.strokeStyle = '#222'; c.fillStyle = '#222'; c.lineWidth = 2;
    c.beginPath(); c.moveTo(x0, y); c.lineTo(x1 - 10, y); c.stroke();
    c.beginPath(); c.moveTo(x1, y); c.lineTo(x1 - 13, y - 5.5); c.lineTo(x1 - 13, y + 5.5); c.closePath(); c.fill();
    c.restore();
  }
};
const fSeries = [f5th, f3rd, f1st, f2nd];
const fColors = [LBLUE, BLUE, NAVY, RED];
makeChart('scatter', {x: 10, y: 1640, w: 600, h: 436}, {l: 106.9, t: 1658.3, r: 590.6, b: 1992.3}, {
  x: axis(-0.29, 10.1, [0, 2, 4, 6, 8, 10], [1, 3, 5, 7, 9], f0, {size: 22, tl: 6, pad: 11, title: 'Capacity (mAh cm\u207B\u00B2)', tsize: 22, tpad: 2.2}),
  y: axis(-0.4, 1.0, [-0.4, -0.2, 0.0, 0.2, 0.4, 0.6, 0.8, 1.0], [-0.3, -0.1, 0.1, 0.3, 0.5, 0.7, 0.9], f1, {size: 22, tl: 5, pad: 4, title: 'Voltage (V)', tsize: 23, tpad: 8.9})
}, fSeries.map((arr, i) => ({type: 'scatter', data: pairs(arr), showLine: true, pointRadius: 0,
  borderColor: fColors[i], borderWidth: 2.4})), {frame: {width: 1.8}}, [arrowPlugin]);

// ---------- (g) ----------
const SHAPES = {
  hex: [[0, -1], [0.87, -0.5], [0.87, 0.5], [0, 1], [-0.87, 0.5], [-0.87, -0.5]],
  pent: [[0, -1], [0.95, -0.31], [0.59, 0.81], [-0.59, 0.81], [-0.95, -0.31]],
  down: [[-1, -0.75], [1, -0.75], [0, 0.95]],
  right: [[-0.8, -1], [0.95, 0], [-0.8, 1]],
  diamond: [[0, -1], [0.72, 0], [0, 1], [-0.72, 0]],
  square: [[-0.85, -0.85], [0.85, -0.85], [0.85, 0.85], [-0.85, 0.85]],
  star: []
};
for (let k = 0; k < 10; k++) {
  const ang = -Math.PI / 2 + k * Math.PI / 5, rr = k % 2 ? 0.42 : 1;
  SHAPES.star.push([rr * Math.cos(ang), rr * Math.sin(ang)]);
}
function marker(shape, size, top, bottom, edge) {
  const c = document.createElement('canvas');
  c.width = c.height = size + 4;
  const g = c.getContext('2d');
  const m = c.width / 2, r = size / 2;
  const outline = () => {
    g.beginPath();
    if (shape === 'circle') { g.arc(m, m, r, 0, Math.PI * 2); return; }
    SHAPES[shape].forEach((p, i) => i ? g.lineTo(m + p[0] * r, m + p[1] * r) : g.moveTo(m + p[0] * r, m + p[1] * r));
    g.closePath();
  };
  [[0, top], [m, bottom]].forEach(([y0, col]) => {
    g.save(); g.beginPath(); g.rect(0, y0, c.width, m); g.clip();
    outline(); g.fillStyle = col; g.fill(); g.restore();
  });
  outline(); g.lineWidth = 1.3; g.strokeStyle = edge; g.stroke();
  return c;
}
const gMarkers = [
  marker('hex', 22, '#f2b8ae', '#fdf1e4', '#f0c0b0'),
  marker('circle', 20, '#d7282f', '#d7282f', '#d7282f'),
  marker('down', 22, '#ffffff', '#a3151d', '#b0141c'),
  marker('hex', 22, '#e0505a', '#e0505a', '#e0505a'),
  marker('hex', 22, '#ee8a7c', '#fff8f2', '#e8907f'),
  marker('diamond', 24, '#808080', '#ffffff', '#777777'),
  marker('hex', 22, '#9cc0a0', '#f6faf2', '#9dbfa0'),
  marker('right', 22, '#2e86c1', '#e2f3b4', '#3a8cc4'),
  marker('pent', 22, '#7dbde0', '#7dbde0', '#7dbde0'),
  marker('square', 20, '#5aaed6', '#5aaed6', '#5aaed6'),
  marker('diamond', 24, '#e04858', '#e04858', '#e04858'),
  marker('star', 22, '#e03a44', '#e03a44', '#e03a44'),
  marker('diamond', 24, '#63b7dd', '#ffffff', '#5fb5dd')
];
makeChart('scatter', {x: 670, y: 1640, w: 1079, h: 444}, {l: 785, t: 1660, r: 1742, b: 1996.7}, {
  x: axis(0, 11, [0, 2, 4, 6, 8, 10], [1, 3, 5, 7, 9, 11], f0, {size: 22, tl: 7, pad: 11, title: 'Areal capacity (mAh cm\u207B\u00B2)', tsize: 22, tpad: 2.8}),
  y: axis(-13, 4300, [0, 1000, 2000, 3000, 4000], [500, 1500, 2500, 3500], f0, {size: 22, tl: 7, pad: 11, title: 'Cumulative capacity (mAh cm\u207B\u00B2)', tsize: 22, tpad: 2.8})
}, [{type: 'scatter', data: pts(gAreal, gCumulative), pointStyle: gMarkers, pointRadius: 11}], {frame: {width: 1.8}});

// ---------- text: panel letters, legends, notes ----------
put('(a)', 8, 26, 36, 'l', 'font-family:' + ROUND);
put('(b)', 11, 586, 36, 'l', 'font-family:' + ROUND);
put('(c)', 1175, 588, 36, 'l', 'font-family:' + ROUND);
put('(d)', 10, 1149, 36, 'l', 'font-family:' + ROUND);
put('(e)', 651, 1149, 36, 'l', 'font-family:' + ROUND);
put('(f)', 12, 1634, 36, 'l', 'font-family:' + ROUND);
put('(g)', 651, 1634, 36, 'l', 'font-family:' + ROUND);

// (a) legend + condition
swatch(327, 77, 35, 9, NAVY, 5); put('aqueous', 382, 77, 24, 'l');
swatch(502, 77, 32, 9, RED, 5); put('EMC+H<sub>2</sub>O', 554, 77, 24, 'l');
swatch(697, 77, 32, 9, BLUE, 5); put('TBP', 749, 77, 24, 'l');
put('2 mA cm<sup>-2</sup>, 1 mAh cm<sup>-2</sup>', 1736, 80, 23, 'r');

// (b) legend + condition
swatch(143, 644, 29, 9, NAVY, 5); put('aqueous', 189, 644, 22, 'l');
swatch(290, 644, 29, 9, RED, 5); put('EMC+H<sub>2</sub>O', 336, 644, 22, 'l');
swatch(456, 644, 28, 9, BLUE, 5); put('TBP', 502, 644, 22, 'l');
put('10 mA cm<sup>-2</sup>, 5 mAh cm<sup>-2</sup>', 1115, 644, 22, 'r');

// (c) legend
const cLegend = ['initial', '5<sup>th</sup>', '50<sup>th</sup>', '100<sup>th</sup>', '220<sup>th</sup>'];
const cLegendColor = [NAVY, RED, BLUE, GREEN, LBLUE];
[594.4, 638.5, 683, 727, 771].forEach((y, i) => {
  dot(1346.7, y, 5.5, cLegendColor[i]);
  put(cLegend[i], 1392.6, y, 29, 'l', 'font-family:' + ROUND);
});

// (d) notes
put('10 mA cm<sup>-2</sup>, 5 mAh cm<sup>-2</sup>', 120.4, 1187, 21, 'l');
put('30 \u00B0C', 186.5, 1247, 21, 'c');
put('10 \u00B0C', 311, 1223, 21, 'c');
put('0 \u00B0C', 420, 1207, 21, 'c');
put('-10 \u00B0C', 557, 1187, 21, 'c');

// (e) legend + condition
put('10 mA cm<sup>-2</sup>, 10 mAh cm<sup>-2</sup>', 1735, 1190, 20, 'r');
const eLegend = ['aqueous', 'EMC+H<sub>2</sub>O', 'TBP'];
const eLegendColor = [NAVY, RED, '#1f77b9'];
[1284, 1313.3, 1348.3].forEach((y, i) => {
  dot(1603, y, 6.5, eLegendColor[i]);
  put(eLegend[i], 1633.7, y, 20, 'l');
});

// (f) legend + condition
put('10 mA cm<sup>-2</sup>, 10 mAh cm<sup>-2</sup>', 588, 1676, 21, 'r');
const fLegend = ['1<sup>st</sup>', '2<sup>nd</sup>', '3<sup>rd</sup>', '5<sup>th</sup>'];
const fLegendColor = [NAVY, RED, BLUE, LBLUE];
[1676, 1704, 1732.7, 1761.7].forEach((y, i) => {
  swatch(136.7, y, 27, 3.5, fLegendColor[i], 1);
  put(fLegend[i], 179.6, y, 21, 'l');
});

// (g) point labels
const gLabelPos = [[891, 1680, 'l'], [1658, 1717, 'c'], [1151, 1788, 'l'], [1149, 1839, 'l'], [863, 1818, 'c'], [893, 1870, 'l'],
  [891, 1902, 'l'], [887, 1937, 'l'], [1057, 1923, 'l'], [839, 1956, 'l'], [844, 1983, 'l'], [983, 1968, 'l'], [1648, 1860, 'c']];
gNames.forEach((n, i) => put(n, gLabelPos[i][0], gLabelPos[i][1], 21, gLabelPos[i][2]));
</script>
</body>
</html>
